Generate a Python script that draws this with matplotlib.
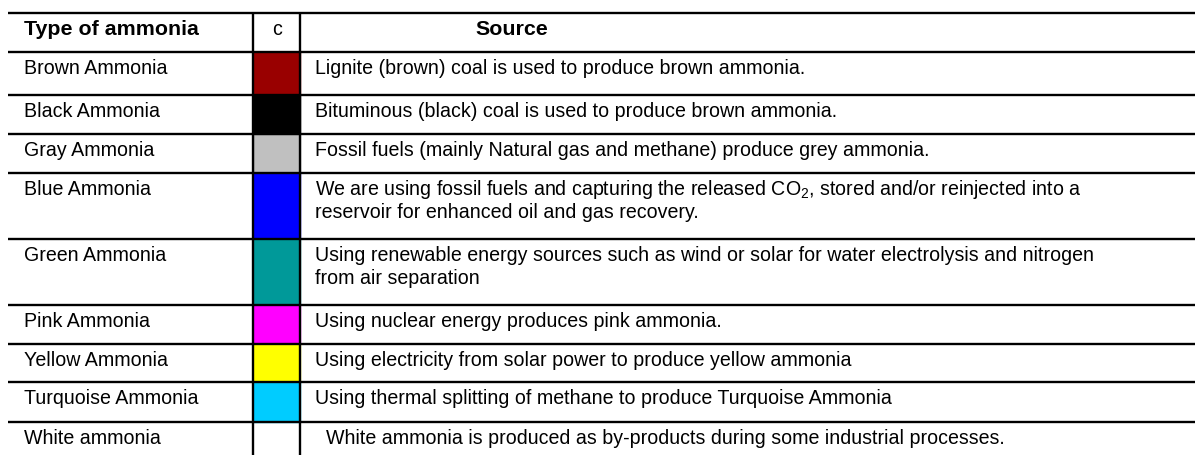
import matplotlib
matplotlib.use('Agg')
import matplotlib.pyplot as plt
from matplotlib.patches import Rectangle

plt.rcParams['font.family'] = ['Liberation Sans', 'DejaVu Sans']
plt.rcParams['mathtext.fontset'] = 'custom'
plt.rcParams['mathtext.rm'] = 'Liberation Sans'

types = ['Brown Ammonia', 'Black Ammonia', 'Gray Ammonia', 'Blue Ammonia',
         'Green Ammonia', 'Pink Ammonia', 'Yellow Ammonia',
         'Turquoise Ammonia', 'White ammonia']
colours = ['#990000', '#000000', '#C0C0C0', '#0000FF', '#009999',
           '#FF00FF', '#FFFF00', '#00CCFF', None]
sources = [
    ['Lignite (brown) coal is used to produce brown ammonia.'],
    ['Bituminous (black) coal is used to produce brown ammonia.'],
    ['Fossil fuels (mainly Natural gas and methane) produce grey ammonia.'],
    ['We are using fossil fuels and capturing the released CO$_\\mathregular{2}$, stored and/or reinjected into a',
     'reservoir for enhanced oil and gas recovery.'],
    ['Using renewable energy sources such as wind or solar for water electrolysis and nitrogen',
     'from air separation'],
    ['Using nuclear energy produces pink ammonia.'],
    ['Using electricity from solar power to produce yellow ammonia'],
    ['Using thermal splitting of methane to produce Turquoise Ammonia'],
    ['  White ammonia is produced as by-products during some industrial processes.'],
]

# row boundaries in pixels (header first)
row_tops = [14, 53, 96, 135, 174, 240, 306, 345, 383, 423, 470]

W, H = 1195, 456
fig = plt.figure(figsize=(W / 100, H / 100), dpi=100)
ax = fig.add_axes([0, 0, 1, 1])
ax.set_xlim(0, W)
ax.set_ylim(H, 0)
ax.axis('off')

x_left, x_c1, x_c2 = 8, 253, 300
fs = 14.1
fs_head = 15.4

# colour swatches
for i, col in enumerate(colours):
    if col is None:
        continue
    top, bot = row_tops[i + 1], row_tops[i + 2]
    ec = '#808080' if col == '#C0C0C0' else col
    ax.add_patch(Rectangle((x_c1, top), x_c2 - x_c1, bot - top,
                           facecolor=col, edgecolor=ec, linewidth=1))

# header
ax.text(24, row_tops[0] + 21, 'Type of ammonia', fontsize=fs_head, fontweight='bold', va='baseline')
ax.text(277, row_tops[0] + 21, 'c', fontsize=fs, ha='center', va='baseline')
ax.text(475, row_tops[0] + 21, 'Source', fontsize=fs_head, fontweight='bold', va='baseline')

# body
for i, name in enumerate(types):
    top = row_tops[i + 1]
    ax.text(24, top + 21, name, fontsize=fs, va='baseline')
    for j, line in enumerate(sources[i]):
        ax.text(315, top + 21 + j * 23, line, fontsize=fs, va='baseline')

# grid lines
lw = 1.7
for y in row_tops[:-1]:
    ax.plot([x_left, W], [y, y], color='black', lw=lw, solid_capstyle='butt')
for x in (x_c1, x_c2):
    ax.plot([x, x], [row_tops[0], H], color='black', lw=lw, solid_capstyle='butt')

fig.savefig('out.png', dpi=100)
